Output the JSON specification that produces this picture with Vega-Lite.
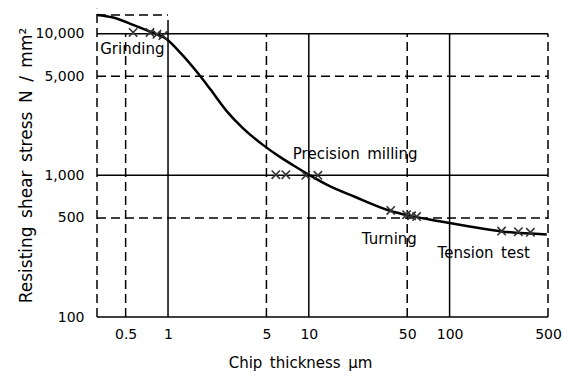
{
  "$schema": "https://vega.github.io/schema/vega-lite/v6.json",
  "width": 451,
  "height": 302,
  "autosize": {"type": "none"},
  "padding": {"left": 97, "top": 15, "right": 15, "bottom": 60},
  "background": "white",
  "config": {"view": {"stroke": null}, "font": "DejaVu Sans"},
  "datasets": {
    "curve": [
      {"x": 0.313, "y": 13550},
      {"x": 0.407, "y": 13000},
      {"x": 0.565, "y": 11550},
      {"x": 0.745, "y": 10330},
      {"x": 0.984, "y": 9090},
      {"x": 1.216, "y": 7380},
      {"x": 1.606, "y": 5360},
      {"x": 1.986, "y": 4080},
      {"x": 2.62, "y": 2827},
      {"x": 3.40, "y": 2153},
      {"x": 4.72, "y": 1641},
      {"x": 6.23, "y": 1350},
      {"x": 8.22, "y": 1137},
      {"x": 10.2, "y": 1000},
      {"x": 13.4, "y": 861},
      {"x": 21.2, "y": 706},
      {"x": 38.2, "y": 560},
      {"x": 49.5, "y": 524},
      {"x": 84.9, "y": 474},
      {"x": 138.6, "y": 436},
      {"x": 234, "y": 402},
      {"x": 490, "y": 383}
    ],
    "marks": [
      {"x": 0.565, "y": 10200},
      {"x": 0.745, "y": 10200},
      {"x": 0.835, "y": 9900},
      {"x": 0.92, "y": 9700},
      {"x": 5.83, "y": 1010},
      {"x": 6.87, "y": 1010},
      {"x": 9.52, "y": 1000},
      {"x": 11.6, "y": 1000},
      {"x": 38.2, "y": 565},
      {"x": 49.5, "y": 528},
      {"x": 53.7, "y": 518},
      {"x": 58.3, "y": 512},
      {"x": 234, "y": 404},
      {"x": 308, "y": 400},
      {"x": 375, "y": 396}
    ],
    "vsolid": [
      {"x": 1, "y": 100, "y2": 12500},
      {"x": 10, "y": 100, "y2": 10000},
      {"x": 100, "y": 100, "y2": 10000}
    ],
    "vdash": [
      {"x": 0.313, "y": 100, "y2": 15000},
      {"x": 0.5, "y": 100, "y2": 10000},
      {"x": 5, "y": 100, "y2": 10000},
      {"x": 50, "y": 100, "y2": 10000},
      {"x": 500, "y": 100, "y2": 10000}
    ],
    "hsolid": [
      {"y": 100, "x": 0.313, "x2": 500},
      {"y": 1000, "x": 0.313, "x2": 500},
      {"y": 10000, "x": 0.313, "x2": 500}
    ],
    "hdash": [
      {"y": 500, "x": 0.313, "x2": 500},
      {"y": 5000, "x": 0.313, "x2": 500},
      {"y": 13550, "x": 0.313, "x2": 1}
    ],
    "labels": [
      {"label": "Grinding", "x": 0.33, "y": 7800},
      {"label": "Precision\u2002milling", "x": 7.7, "y": 1410},
      {"label": "Turning", "x": 23.8, "y": 358},
      {"label": "Tension\u2002test", "x": 82.2, "y": 284}
    ]
  },
  "layer": [
    {
      "data": {"name": "vsolid"},
      "mark": {"type": "rule", "color": "black", "strokeWidth": 1.5},
      "encoding": {
        "x": {
          "field": "x", "type": "quantitative",
          "scale": {"type": "log", "domain": [0.313, 500], "nice": false, "zero": false},
          "axis": {
            "values": [0.5, 1, 5, 10, 50, 100, 500],
            "format": "~g",
            "domain": false, "ticks": false, "grid": false,
            "labelFont": "DejaVu Sans", "labelFontSize": 14, "labelColor": "black",
            "labelPadding": 10, "labelFlush": false, "labelOverlap": false,
            "title": "Chip\u2002thickness\u2002µm",
            "titleFont": "DejaVu Sans", "titleFontSize": 15, "titleFontWeight": "normal",
            "titleColor": "black", "titleX": 203, "titleY": 45, "titleBaseline": "middle", "titleAlign": "center"
          }
        },
        "y": {
          "field": "y", "type": "quantitative",
          "scale": {"type": "log", "domain": [100, 13550], "nice": false, "zero": false},
          "axis": {
            "values": [100, 500, 1000, 5000, 10000],
            "format": ",",
            "domain": false, "ticks": false, "grid": false,
            "labelFont": "DejaVu Sans", "labelFontSize": 14, "labelColor": "black",
            "labelPadding": 13, "labelFlush": false, "labelOverlap": false,
            "title": "Resisting\u2002shear\u2002stress\u2002N\u2002/\u2002mm²",
            "titleFont": "DejaVu Sans", "titleFontSize": 17, "titleFontWeight": "normal",
            "titleColor": "black", "titleAngle": -90, "titleX": -71, "titleY": 150,
            "titleBaseline": "middle", "titleAlign": "center"
          }
        },
        "y2": {"field": "y2"}
      }
    },
    {
      "data": {"name": "vdash"},
      "mark": {"type": "rule", "color": "black", "strokeWidth": 1.5, "strokeDash": [9, 5]},
      "encoding": {
        "x": {"field": "x", "type": "quantitative"},
        "y": {"field": "y", "type": "quantitative"},
        "y2": {"field": "y2"}
      }
    },
    {
      "data": {"name": "hsolid"},
      "mark": {"type": "rule", "color": "black", "strokeWidth": 1.5},
      "encoding": {
        "y": {"field": "y", "type": "quantitative"},
        "x": {"field": "x", "type": "quantitative"},
        "x2": {"field": "x2"}
      }
    },
    {
      "data": {"name": "hdash"},
      "mark": {"type": "rule", "color": "black", "strokeWidth": 1.5, "strokeDash": [9, 5]},
      "encoding": {
        "y": {"field": "y", "type": "quantitative"},
        "x": {"field": "x", "type": "quantitative"},
        "x2": {"field": "x2"}
      }
    },
    {
      "data": {"name": "curve"},
      "mark": {"type": "line", "color": "black", "strokeWidth": 2.5, "interpolate": "monotone"},
      "encoding": {
        "x": {"field": "x", "type": "quantitative"},
        "y": {"field": "y", "type": "quantitative"}
      }
    },
    {
      "data": {"name": "marks"},
      "mark": {"type": "point", "shape": "M-1,-1L1,1M1,-1L-1,1", "filled": false, "stroke": "#333", "strokeWidth": 1.6, "size": 70, "opacity": 1},
      "encoding": {
        "x": {"field": "x", "type": "quantitative"},
        "y": {"field": "y", "type": "quantitative"}
      }
    },
    {
      "data": {"name": "labels"},
      "mark": {"type": "text", "align": "left", "baseline": "middle", "font": "DejaVu Sans", "fontSize": 15, "color": "black"},
      "encoding": {
        "x": {"field": "x", "type": "quantitative"},
        "y": {"field": "y", "type": "quantitative"},
        "text": {"field": "label"}
      }
    }
  ]
}
